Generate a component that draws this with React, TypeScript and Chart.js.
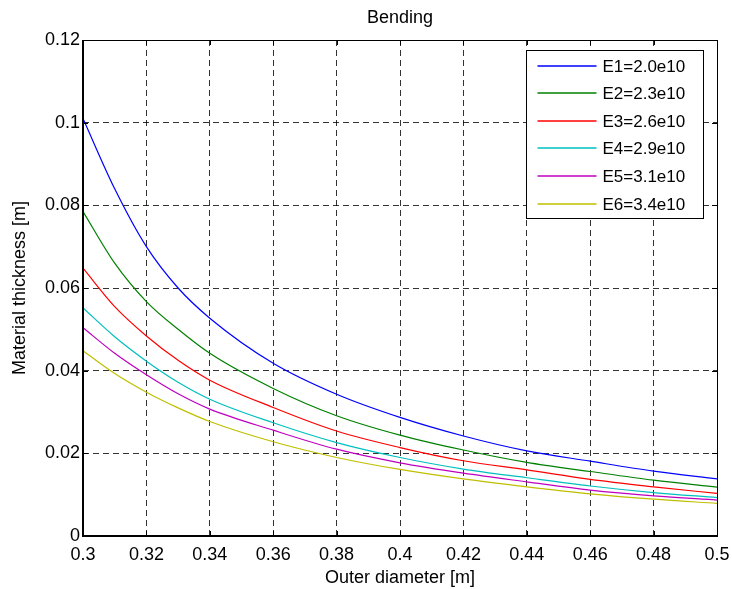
import React, { useEffect, useRef } from 'react';
import { Chart, registerables } from 'chart.js';

Chart.register(...registerables);

const xValues = [0.3, 0.31, 0.32, 0.33, 0.34, 0.36, 0.38, 0.4, 0.42, 0.44, 0.46, 0.48, 0.5];

const seriesLabels = ['E1=2.0e10', 'E2=2.3e10', 'E3=2.6e10', 'E4=2.9e10', 'E5=3.1e10', 'E6=3.4e10'];
const seriesColors = ['#0000ff', '#008000', '#ff0000', '#00bfbf', '#bf00bf', '#bfbf00'];

const e1Values = [0.101, 0.084, 0.07, 0.06, 0.0527, 0.0418, 0.0343, 0.0287, 0.0242, 0.0206, 0.0181, 0.0157, 0.0138];
const e2Values = [0.0785, 0.066, 0.0567, 0.05, 0.0442, 0.0357, 0.0291, 0.0244, 0.0208, 0.0178, 0.0156, 0.0135, 0.0118];
const e3Values = [0.0648, 0.0555, 0.0484, 0.0425, 0.0377, 0.0311, 0.0254, 0.0214, 0.0182, 0.016, 0.0137, 0.0119, 0.0103];
const e4Values = [0.0552, 0.0482, 0.0423, 0.0372, 0.0331, 0.0274, 0.0226, 0.019, 0.0162, 0.0141, 0.0121, 0.0105, 0.0093];
const e5Values = [0.0504, 0.0442, 0.039, 0.0344, 0.0307, 0.0256, 0.021, 0.0177, 0.0152, 0.0131, 0.0111, 0.0097, 0.0087];
const e6Values = [0.0448, 0.0393, 0.0348, 0.031, 0.0277, 0.0228, 0.019, 0.0161, 0.0138, 0.0119, 0.0102, 0.0089, 0.0079];

const seriesValues = [e1Values, e2Values, e3Values, e4Values, e5Values, e6Values];

const xTickValues = [0.3, 0.32, 0.34, 0.36, 0.38, 0.4, 0.42, 0.44, 0.46, 0.48, 0.5];
const xTickLabels = ['0.3', '0.32', '0.34', '0.36', '0.38', '0.4', '0.42', '0.44', '0.46', '0.48', '0.5'];
const yTickValues = [0, 0.02, 0.04, 0.06, 0.08, 0.1, 0.12];
const yTickLabels = ['0', '0.02', '0.04', '0.06', '0.08', '0.1', '0.12'];

const FONT = '"Liberation Sans", Arial, Helvetica, sans-serif';

const framePlugin = {
  id: 'frameAndLegend',
  afterDatasetsDraw(chart: any) {
    const { ctx, chartArea } = chart;
    const { left, right, top, bottom } = chartArea;
    const xs = chart.scales.x;
    const ys = chart.scales.y;
    ctx.save();
    ctx.strokeStyle = '#000';
    ctx.lineWidth = 1;
    const tl = 5;
    ctx.beginPath();
    xs.ticks.forEach((t: any) => {
      const px = Math.round(xs.getPixelForValue(t.value)) + 0.5;
      ctx.moveTo(px, bottom);
      ctx.lineTo(px, bottom - tl);
      ctx.moveTo(px, top);
      ctx.lineTo(px, top + tl);
    });
    ys.ticks.forEach((t: any) => {
      const py = Math.round(ys.getPixelForValue(t.value)) + 0.5;
      ctx.moveTo(left, py);
      ctx.lineTo(left + tl, py);
      ctx.moveTo(right, py);
      ctx.lineTo(right - tl, py);
    });
    ctx.stroke();
    ctx.lineWidth = 1;
    ctx.beginPath();
    ctx.moveTo(left, top + 0.5);
    ctx.lineTo(right + 0.5, top + 0.5);
    ctx.lineTo(right + 0.5, bottom);
    ctx.stroke();
    ctx.lineWidth = 2;
    ctx.beginPath();
    ctx.moveTo(left, top);
    ctx.lineTo(left, bottom);
    ctx.lineTo(right + 1, bottom);
    ctx.stroke();

    // legend
    const boxW = 177;
    const boxH = 168;
    const bx = Math.round(right - 14 - boxW) + 0.5;
    const by = Math.round(top + 10) + 0.5;
    ctx.fillStyle = '#fff';
    ctx.fillRect(bx, by, boxW, boxH);
    ctx.lineWidth = 1;
    ctx.strokeStyle = '#000';
    ctx.strokeRect(bx, by, boxW, boxH);
    ctx.font = '17px ' + FONT;
    ctx.textBaseline = 'middle';
    ctx.textAlign = 'left';
    seriesLabels.forEach((label, i) => {
      const cy = Math.round(by + 15 + i * 27.6);
      ctx.strokeStyle = seriesColors[i];
      ctx.lineWidth = 1.6;
      ctx.beginPath();
      ctx.moveTo(bx + 11, cy);
      ctx.lineTo(bx + 70, cy);
      ctx.stroke();
      ctx.fillStyle = '#000';
      ctx.fillText(label, bx + 76, cy + 1);
    });
    ctx.restore();
  },
};

export default function App() {
  const canvasRef = useRef<HTMLCanvasElement | null>(null);

  useEffect(() => {
    if (!canvasRef.current) return;
    Chart.defaults.color = '#000';
    Chart.defaults.font.family = FONT;
    const datasets = seriesValues.map((vals, i) => ({
      label: seriesLabels[i],
      data: xValues.map((x, j) => ({ x, y: vals[j] })),
      borderColor: seriesColors[i],
      backgroundColor: seriesColors[i],
      borderWidth: 1.2,
      pointRadius: 0,
      fill: false,
      cubicInterpolationMode: 'monotone' as const,
    }));
    const gridStyle = {
      color: 'rgba(0,0,0,0.8)',
      lineWidth: 1,
      drawTicks: false,
    };
    const chart = new Chart(canvasRef.current, {
      type: 'line',
      data: { datasets },
      options: {
        responsive: false,
        animation: false,
        devicePixelRatio: 1,
        layout: { padding: { left: 0, right: 15, top: 0, bottom: 0 } },
        plugins: {
          legend: { display: false },
          tooltip: { enabled: false },
          title: {
            display: true,
            text: 'Bending',
            fullSize: false,
            color: '#000',
            font: { size: 18, weight: 'normal', family: FONT, lineHeight: 1.2 },
            padding: { top: 7, bottom: 11.4 },
          },
        },
        scales: {
          x: {
            type: 'linear',
            min: 0.3,
            max: 0.5,
            afterBuildTicks: (scale: any) => {
              scale.ticks = xTickValues.map((v) => ({ value: v }));
            },
            afterFit: (scale: any) => {
              scale.height = 53;
              scale.paddingRight = 0;
              scale.paddingLeft = 0;
            },
            ticks: {
              padding: 8,
              maxRotation: 0,
              autoSkip: false,
              font: { size: 18, family: FONT },
              callback: (_v: any, i: number) => xTickLabels[i],
            },
            grid: { ...gridStyle, borderDash: [6, 4] } as any,
            border: { display: false, dash: [6, 4] } as any,
            title: {
              display: true,
              text: 'Outer diameter [m]',
              font: { size: 18, family: FONT, lineHeight: 1.2 },
              padding: { top: 0, bottom: 0 },
            },
          },
          y: {
            type: 'linear',
            min: 0,
            max: 0.12,
            afterBuildTicks: (scale: any) => {
              scale.ticks = yTickValues.map((v) => ({ value: v }));
            },
            afterFit: (scale: any) => {
              scale.width = 83;
            },
            ticks: {
              padding: 3,
              autoSkip: false,
              font: { size: 18, family: FONT },
              callback: (_v: any, i: number) => yTickLabels[i],
            },
            grid: { ...gridStyle } as any,
            border: { display: false, dash: [6, 4] } as any,
            title: {
              display: true,
              text: 'Material thickness [m]',
              font: { size: 18, family: FONT, lineHeight: 1.2 },
              padding: { top: 9, bottom: 0 },
            },
          },
        },
      },
      plugins: [framePlugin],
    });
    return () => chart.destroy();
  }, []);

  return (
    <div style={{ position: 'absolute', left: 0, top: 0, width: 732, height: 589, background: '#fff' }}>
      <canvas ref={canvasRef} width={732} height={589} style={{ display: 'block' }} />
    </div>
  );
}
